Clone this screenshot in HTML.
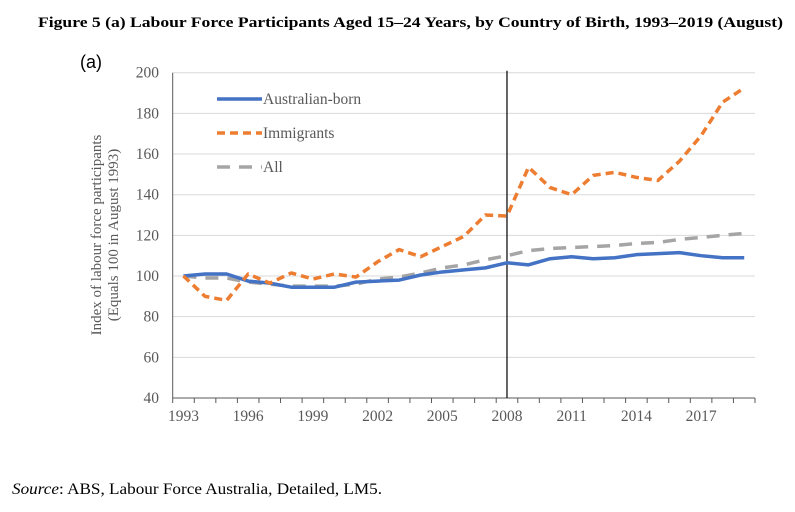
<!DOCTYPE html>
<html><head><meta charset="utf-8"><style>
body{margin:0;background:#fff;width:795px;height:507px;overflow:hidden;font-family:"Liberation Serif",serif}
</style></head><body>
<svg width="795" height="507" xmlns="http://www.w3.org/2000/svg">
<text x="38" y="27" textLength="745" lengthAdjust="spacingAndGlyphs" font-weight="bold" font-size="15">Figure 5  (a) Labour Force Participants Aged 15–24 Years, by Country of Birth, 1993–2019 (August)</text>
<text x="80" y="68" font-family="Liberation Sans, sans-serif" font-size="18">(a)</text>
<g id="grid"></g><g id="axes"></g><g id="series"></g>
<text transform="translate(101,235) rotate(-90)" text-anchor="middle" font-size="15" fill="#595959">Index of labour force participants</text>
<text transform="translate(118,235) rotate(-90)" text-anchor="middle" font-size="15" fill="#595959">(Equals 100 in August 1993)</text>
<g>
<line x1="217" y1="99" x2="262" y2="99" stroke="#4472C4" stroke-width="3.5"/>
<text x="263" y="104" font-size="15.5" fill="#595959">Australian-born</text>
<line x1="217" y1="133" x2="262" y2="133" stroke="#ED7D31" stroke-width="3.5" stroke-dasharray="8,5"/>
<text x="263" y="138" font-size="15.5" fill="#595959">Immigrants</text>
<line x1="217" y1="167" x2="262" y2="167" stroke="#A5A5A5" stroke-width="3.5" stroke-dasharray="13,9"/>
<text x="263" y="172" font-size="15.5" fill="#595959">All</text>
</g>
<text x="12" y="494" textLength="370" lengthAdjust="spacingAndGlyphs" font-size="16"><tspan font-style="italic">Source</tspan>: ABS, Labour Force Australia, Detailed, LM5.</text>
</svg>
<script>
const years=[1993,1994,1995,1996,1997,1998,1999,2000,2001,2002,2003,2004,2005,2006,2007,2008,2009,2010,2011,2012,2013,2014,2015,2016,2017,2018,2019];
const australianBorn=[100,101,101,97.5,96.5,94.5,94.5,94.5,97,97.5,98,100.5,102,103,104,106.5,105.5,108.5,109.5,108.5,109,110.5,111,111.5,110,109,109];
const immigrants=[100,90,88,101,96.5,101.5,98.5,101,99.5,107,113,109.5,114.5,119.5,130,129.5,153.5,143.5,140,149.5,151,148.5,147,156.5,169,185.5,192.5];
const allSeries=[100,99,99,97,96,95,95,95,96,98.5,99.5,101.5,104,105.5,108,110,112.5,113.5,114,114.5,115,116,116.5,118,119,120,121];
const yTicks=[40,60,80,100,120,140,160,180,200];
const xLabelYears=[1993,1996,1999,2002,2005,2008,2011,2014,2017];
const markerYear=2008;
const NS="http://www.w3.org/2000/svg";
const X0=172.7,X1=755,Y0=398,Y1=72.7;
const step=(X1-X0)/years.length;
const xs=i=>X0+(i+0.5)*step;
const ys=v=>Y0-(v-40)/160*(Y0-Y1);
function mk(tag,attrs,parent){const e=document.createElementNS(NS,tag);for(const k in attrs)e.setAttribute(k,attrs[k]);parent.appendChild(e);return e;}
const grid=document.getElementById('grid'),axes=document.getElementById('axes'),series=document.getElementById('series');
yTicks.forEach(t=>{
 if(t>40){const l=mk('line',{x1:X0,x2:X1,y1:ys(t),y2:ys(t),stroke:'#d9d9d9','stroke-width':1},grid);
 
 }
 const tx=mk('text',{x:159,y:ys(t)+5,'text-anchor':'end','font-size':15.5,fill:'#595959'},axes);
 tx.textContent=t;
 
 
});
const yax=mk('line',{x1:X0,x2:X0,y1:Y1,y2:Y0,stroke:'#595959','stroke-width':1},axes);


const xax=mk('line',{x1:X0,x2:X1,y1:Y0,y2:Y0,stroke:'#595959','stroke-width':1},axes);


for(let i=0;i<=years.length;i++){mk('line',{x1:X0+i*step,x2:X0+i*step,y1:Y0,y2:Y0+5,stroke:'#595959'},axes);}
xLabelYears.forEach(y=>{const i=years.indexOf(y);
 const tx=mk('text',{x:xs(i),y:Y0+23,'text-anchor':'middle','font-size':15.5,fill:'#595959'},axes);
 tx.textContent=y;
 
 });
const vi=years.indexOf(markerYear);
const vl=mk('line',{x1:xs(vi),x2:xs(vi),y1:Y1-2,y2:Y0,stroke:'#000','stroke-width':1.2},series);


function line(data,color,dash,name){
 const p=mk('polyline',{points:data.map((v,i)=>xs(i)+','+ys(v)).join(' '),fill:'none',stroke:color,'stroke-width':3.5,'stroke-dasharray':dash,'stroke-linejoin':'round'},series);
 
 
}
line(allSeries,'#A5A5A5','13,9','series-all');
line(australianBorn,'#4472C4','none','series-australian-born');
line(immigrants,'#ED7D31','8,5','series-immigrants');
</script>
</body></html>
